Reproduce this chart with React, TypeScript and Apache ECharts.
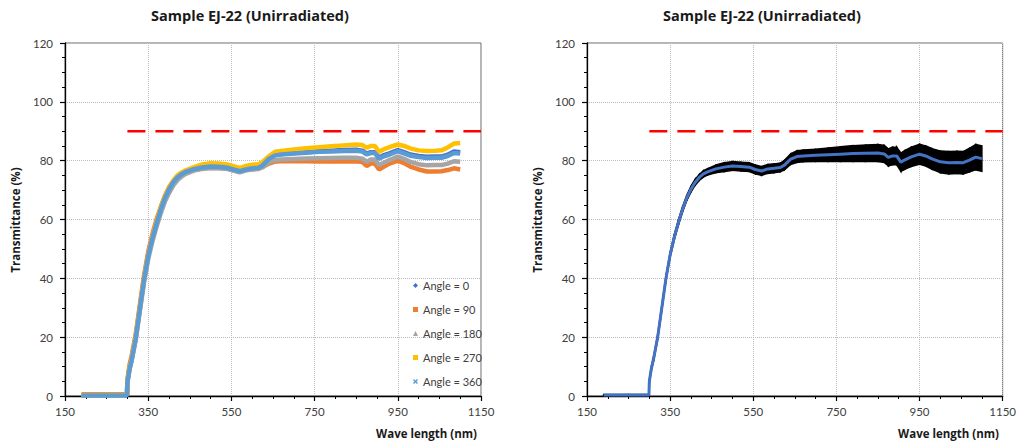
import React, { useEffect, useRef } from "react";
import * as echarts from "echarts";

// ---- Data ----
const WAVELENGTHS = [190, 250, 299, 300, 305, 310, 320, 330, 340, 350, 360, 370, 380, 390, 400, 410, 420, 430, 440, 460, 480, 500, 520, 540, 555, 570, 585, 600, 615, 625, 640, 655, 670, 700, 730, 760, 790, 820, 850, 865, 875, 885, 895, 905, 915, 930, 950, 965, 980, 1000, 1020, 1040, 1055, 1070, 1085, 1100];

const ANGLE_0 = [0.3, 0.3, 0.3, 5, 9.5, 12.5, 20, 30, 40, 48, 54, 59, 63.5, 67.5, 70.5, 72.8, 74.5, 75.6, 76.3, 77.2, 77.8, 78.2, 78.0, 77.8, 77.2, 76.6, 77.2, 77.6, 77.8, 78.6, 80.8, 82.0, 82.3, 82.6, 82.9, 83.2, 83.4, 83.6, 83.7, 83.4, 82.4, 82.9, 82.9, 81.0, 81.8, 82.5, 83.6, 82.9, 82.1, 81.6, 81.3, 81.4, 81.4, 82.0, 83.1, 82.9];
const ANGLE_90 = [0.6, 0.6, 0.6, 5.5, 10.5, 13.5, 21, 31, 41, 49, 55, 60, 64.2, 68, 71, 73, 74.5, 75.6, 76.2, 76.9, 77.3, 77.6, 77.5, 77.3, 76.7, 76.2, 76.8, 77.1, 77.3, 77.8, 79.0, 79.7, 79.8, 79.8, 79.8, 79.7, 79.7, 79.7, 79.8, 79.5, 78.2, 79.0, 79.0, 77.0, 77.8, 79.0, 80.0, 79.2, 78.0, 77.0, 76.3, 76.3, 76.4, 76.8, 77.4, 77.0];
const ANGLE_180 = [0.3, 0.3, 0.3, 4.5, 9, 12, 19, 29, 38.5, 46.5, 52.5, 57.5, 62, 66, 69, 71.5, 73.3, 74.6, 75.5, 76.6, 77.2, 77.5, 77.4, 77.2, 76.6, 76.0, 76.7, 77.0, 77.2, 77.8, 79.5, 80.2, 80.4, 80.6, 80.7, 80.8, 80.9, 81.0, 81.0, 80.7, 79.6, 80.4, 80.4, 78.5, 79.2, 80.2, 81.4, 80.6, 79.6, 78.8, 78.4, 78.5, 78.5, 79.0, 79.8, 79.6];
const ANGLE_270 = [0.3, 0.3, 0.3, 5, 9.5, 12.5, 20, 30, 40, 48, 54, 59, 63.8, 67.8, 70.8, 73.2, 75, 76, 76.7, 77.8, 78.7, 79.1, 79.0, 78.7, 78.1, 77.5, 78.2, 78.6, 78.8, 79.6, 81.5, 83.0, 83.3, 83.8, 84.2, 84.6, 84.9, 85.2, 85.5, 85.3, 84.4, 85.0, 85.0, 83.0, 83.8, 84.6, 85.5, 85.0, 84.2, 83.5, 83.3, 83.4, 83.5, 84.5, 85.8, 86.0];
const ANGLE_360 = [0.2, 0.2, 0.2, 4.5, 9, 12, 19.5, 29.5, 39.5, 47.5, 53.5, 58.5, 63.2, 67.2, 70.2, 72.6, 74.3, 75.4, 76.2, 77.1, 77.7, 78.0, 77.9, 77.6, 77.0, 76.4, 77.0, 77.4, 77.6, 78.4, 80.6, 81.8, 82.1, 82.4, 82.7, 83.0, 83.1, 83.3, 83.4, 83.1, 82.1, 82.6, 82.6, 80.6, 81.4, 82.1, 83.2, 82.5, 81.7, 81.2, 80.9, 81.0, 81.0, 81.6, 82.6, 82.4];

const MEAN = [0.3, 0.3, 0.3, 5, 9.5, 12.5, 20, 30, 40, 48, 54, 59, 63.5, 67.3, 70.3, 72.6, 74.3, 75.5, 76.2, 77.2, 77.8, 78.2, 78.0, 77.8, 77.0, 76.5, 77.2, 77.4, 77.7, 78.5, 80.5, 81.4, 81.6, 81.8, 82.0, 82.2, 82.4, 82.5, 82.6, 82.3, 81.1, 81.6, 81.6, 79.5, 80.3, 81.3, 82.2, 81.6, 80.6, 79.6, 79.3, 79.4, 79.3, 80.2, 81.2, 80.7];
const ERR = [0.2, 0.2, 0.2, 0.6, 0.7, 0.7, 0.8, 0.8, 0.8, 0.8, 0.9, 0.9, 0.9, 0.9, 1.0, 1.0, 1.0, 1.1, 1.1, 1.3, 1.5, 1.5, 1.5, 1.5, 1.5, 1.5, 1.5, 1.5, 1.5, 1.6, 1.8, 2.0, 2.0, 2.1, 2.3, 2.5, 2.7, 2.8, 2.9, 2.9, 2.9, 3.0, 3.0, 3.1, 3.2, 3.3, 3.4, 3.4, 3.5, 3.7, 3.8, 3.8, 3.8, 4.0, 4.3, 4.3];

const SERIES_NAMES = ["Angle = 0", "Angle = 90", "Angle = 180", "Angle = 270", "Angle = 360"];
const SERIES_VALUES = [ANGLE_0, ANGLE_90, ANGLE_180, ANGLE_270, ANGLE_360];
const SERIES_COLORS = ["#4472C4", "#ED7D31", "#A5A5A5", "#FFC000", "#5B9BD5"];
const LEGEND_ICONS = [
  "diamond",
  "rect",
  "triangle",
  "rect",
  "path://M0,2 L2,0 L5,3 L8,0 L10,2 L7,5 L10,8 L8,10 L5,7 L2,10 L0,8 L3,5 Z",
];

const X_MIN = 150;
const X_MAX = 1150;
const X_STEP = 200;
const Y_MIN = 0;
const Y_MAX = 120;
const Y_STEP = 20;
const REF_LEVEL = 90;
const REF_START = 300;

const TITLE = "Sample EJ-22 (Unirradiated)";
const Y_NAME = "Transmittance (%)";
const X_NAME = "Wave length (nm)";

const FONT = "Lato, 'Open Sans', sans-serif";
const BOLD_FONT = "'Open Sans', Lato, sans-serif";

function xAxisFor(gridIndex: number) {
  return {
    type: "value",
    gridIndex,
    min: 0,
    max: X_MAX - X_MIN,
    interval: X_STEP,
    axisLine: { show: true, onZero: false, lineStyle: { color: "#000", width: 1.3 } },
    axisTick: { show: true, length: 5, lineStyle: { color: "#000", width: 1.2 } },
    minorTick: { show: true, splitNumber: 4, length: 3, lineStyle: { color: "#000" } },
    axisLabel: {
      formatter: (v: number) => String(v + X_MIN),
      color: "#404040",
      fontSize: 11.5,
      fontFamily: FONT,
      margin: 9,
    },
    splitLine: { show: true, lineStyle: { type: "dotted", color: "#BDBDBD", width: 1 } },
  };
}

function yAxisFor(gridIndex: number) {
  return {
    type: "value",
    gridIndex,
    min: Y_MIN,
    max: Y_MAX,
    interval: Y_STEP,
    axisLine: { show: true, onZero: false, lineStyle: { color: "#000", width: 1.3 } },
    axisTick: { show: true, length: 5, lineStyle: { color: "#000", width: 1.2 } },
    minorTick: { show: true, splitNumber: 4, length: 3, lineStyle: { color: "#000" } },
    axisLabel: { color: "#404040", fontSize: 11.5, fontFamily: FONT, margin: 12 },
    splitLine: { show: true, lineStyle: { type: "dotted", color: "#BDBDBD", width: 1 } },
  };
}

function refLine(idx: number) {
  return {
    type: "line",
    xAxisIndex: idx,
    yAxisIndex: idx,
    data: [
      [REF_START - X_MIN, REF_LEVEL],
      [X_MAX - X_MIN, REF_LEVEL],
    ],
    symbol: "none",
    silent: true,
    lineStyle: { color: "#FF0000", width: 2.6, type: [18, 10] },
    z: 5,
  };
}

export default function App() {
  const ref = useRef<HTMLDivElement>(null);

  useEffect(() => {
    if (!ref.current) return;
    const chart = echarts.init(ref.current, undefined, { renderer: "svg" });

    const angleSeries = SERIES_NAMES.map((name, s) => ({
      type: "line",
      name,
      xAxisIndex: 0,
      yAxisIndex: 0,
      data: WAVELENGTHS.map((w, i) => [w - X_MIN, SERIES_VALUES[s][i]]),
      symbol: "none",
      color: SERIES_COLORS[s],
      itemStyle: { color: SERIES_COLORS[s] },
      lineStyle: { color: SERIES_COLORS[s], width: 4.5 },
      z: 2 + s * 0.1,
    }));

    const bandData = WAVELENGTHS.map((w, i) => [w - X_MIN, MEAN[i] - ERR[i], MEAN[i] + ERR[i]]);

    const bandSeries = {
      type: "custom",
      name: "error",
      xAxisIndex: 1,
      yAxisIndex: 1,
      data: bandData,
      encode: { x: 0, y: [1, 2] },
      silent: true,
      z: 2,
      renderItem: (params: any, api: any) => {
        const i = params.dataIndex;
        if (i >= bandData.length - 1) return null;
        const a = bandData[i];
        const b = bandData[i + 1];
        const p1 = api.coord([a[0], a[2]]);
        const p2 = api.coord([b[0], b[2]]);
        const p3 = api.coord([b[0], b[1]]);
        const p4 = api.coord([a[0], a[1]]);
        return {
          type: "polygon",
          shape: { points: [p1, p2, p3, p4] },
          style: { fill: "#000", stroke: "#000", lineWidth: 1.5 },
        };
      },
    };

    const meanSeries = {
      type: "line",
      name: "mean",
      xAxisIndex: 1,
      yAxisIndex: 1,
      data: WAVELENGTHS.map((w, i) => [w - X_MIN, MEAN[i]]),
      symbol: "none",
      lineStyle: { color: "#4472C4", width: 3 },
      z: 3,
    };

    const textStyleBold = (size: number) => ({
      font: `bold ${size}px ${BOLD_FONT}`,
      fill: "#1a1a1a",
    });

    chart.setOption({
      animation: false,
      backgroundColor: "#fff",
      grid: [
        { left: 65, right: 1019 - 481, top: 43, bottom: 446 - 396, show: true, borderColor: "#6b6b6b", borderWidth: 1, backgroundColor: "transparent" },
        { left: 587, right: 1019 - 1003, top: 43, bottom: 446 - 396, show: true, borderColor: "#6b6b6b", borderWidth: 1, backgroundColor: "transparent" },
      ],
      xAxis: [xAxisFor(0), xAxisFor(1)],
      yAxis: [yAxisFor(0), yAxisFor(1)],
      legend: {
        data: SERIES_NAMES.map((name, i) => ({ name, icon: LEGEND_ICONS[i] })),
        orient: "vertical",
        left: 408,
        top: 275,
        itemWidth: 5,
        itemHeight: 5,
        itemGap: 13,
        selectedMode: false,
        textStyle: { fontSize: 11, color: "#404040", fontFamily: FONT },
      },
      graphic: [
        { type: "text", x: 250, y: 15, style: { text: TITLE, ...textStyleBold(14.5), textAlign: "center", textVerticalAlign: "middle" } },
        { type: "text", x: 762, y: 15, style: { text: TITLE, ...textStyleBold(14.5), textAlign: "center", textVerticalAlign: "middle" } },
        { type: "text", x: 15, y: 220, rotation: Math.PI / 2, style: { text: Y_NAME, ...textStyleBold(11.5), textAlign: "center", textVerticalAlign: "middle" } },
        { type: "text", x: 537, y: 220, rotation: Math.PI / 2, style: { text: Y_NAME, ...textStyleBold(11.5), textAlign: "center", textVerticalAlign: "middle" } },
        { type: "text", x: 477, y: 433, style: { text: X_NAME, ...textStyleBold(11.5), textAlign: "right", textVerticalAlign: "middle" } },
        { type: "text", x: 999, y: 433, style: { text: X_NAME, ...textStyleBold(11.5), textAlign: "right", textVerticalAlign: "middle" } },
      ],
      series: [...angleSeries, refLine(0), bandSeries, meanSeries, refLine(1)],
    });

    return () => chart.dispose();
  }, []);

  return <div ref={ref} style={{ position: "fixed", left: 0, top: 0, width: 1019, height: 446 }} />;
}
